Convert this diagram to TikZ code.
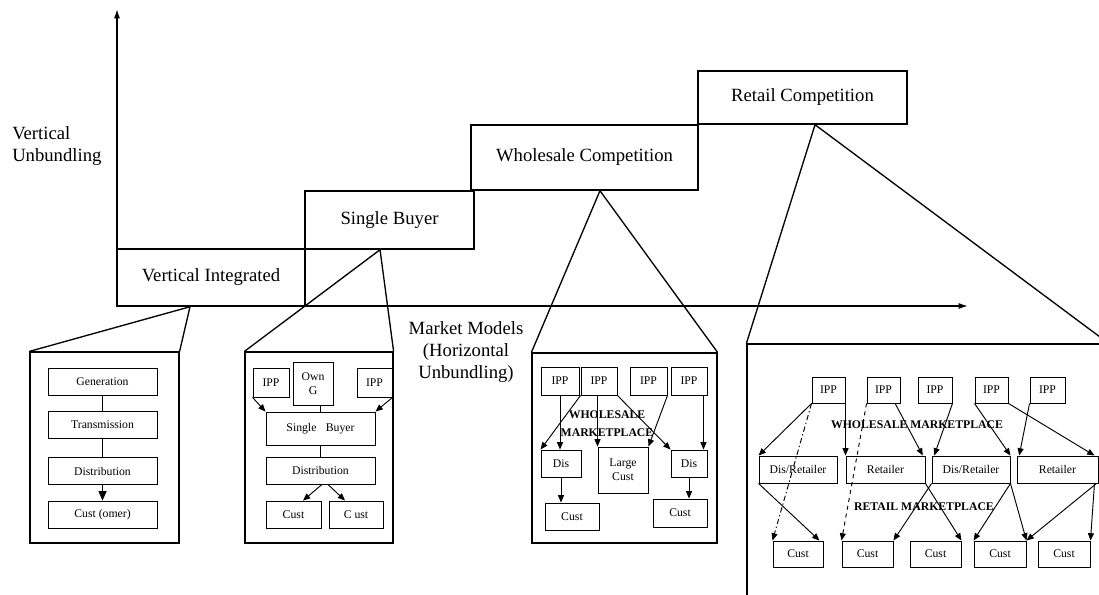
\documentclass[tikz,border=0pt]{standalone}
\usepackage{fontspec}
\setmainfont{Liberation Serif}
\usetikzlibrary{arrows.meta}
\begin{document}
\begin{tikzpicture}[
  x=0.75pt, y=-0.75pt,
  >={Triangle[length=5.5pt,width=4.5pt]},
  px/.style 2 args={minimum width=#1*0.75pt, minimum height=#2*0.75pt},
  stage/.style={draw, line width=1.1pt, inner sep=0pt, font=\fontsize{14}{16.5}\selectfont},
  panel/.style={draw, line width=0.9pt, inner sep=0pt},
  unit/.style={draw, line width=0.7pt, inner sep=0pt, align=center, font=\fontsize{8.8}{10.5}\selectfont},
  market/.style={align=center, inner sep=0pt, font=\fontsize{8.8}{13.5}\selectfont\bfseries},
  axislabel/.style={align=center, inner sep=0pt, font=\fontsize{14}{16.5}\selectfont},
  axis/.style={line width=1.1pt, -{Latex[length=7pt,width=4.5pt]}},
  flow/.style={->, line width=0.7pt},
  link/.style={line width=0.7pt},
  zoomline/.style={line width=1pt}
]
\useasboundingbox (0,0) rectangle (1099,594);
\clip (0,0) rectangle (1099,594);

% axes
\coordinate (origin) at (117,306);
\coordinate (ytop) at (117,9);
\coordinate (xend) at (968,306);
\draw[axis] (origin) -- (ytop);
\draw[axis] (origin) -- (xend);
\node[axislabel, align=left, anchor=west] (vu) at (12,146) {Vertical\\Unbundling};
\node[axislabel] (mm) at (466,352) {Market Models\\(Horizontal\\Unbundling)};

% stages
\node[stage, px={188}{57}] (vi) at (211,277.5) {Vertical Integrated};
\node[stage, px={169}{58}] (sb) at (389.5,220) {Single Buyer};
\node[stage, px={227}{65}] (wc) at (584.5,157.5) {Wholesale Competition};
\node[stage, px={209}{53}] (rc) at (802.5,97.5) {Retail Competition};

% panels
\node[panel, px={149}{191}] (p1) at (104.5,447.5) {};
\node[panel, px={148}{191}] (p2) at (319,447.5) {};
\node[panel, px={185}{190}] (p3) at (624.5,448) {};
\node[panel, px={361}{280}] (p4) at (927.5,484) {};
\draw[zoomline] (p1.north west) -- ([xshift=-15.75pt]vi.south) -- (p1.north east);
\draw[zoomline] (p2.north west) -- ([xshift=-7.1pt]sb.south) -- (p2.north east);
\draw[zoomline] (p3.north west) -- ([xshift=11.6pt]wc.south) -- (p3.north east);
\draw[zoomline] (p4.north west) -- ([xshift=9.4pt]rc.south) -- (p4.north east);

% vertical integrated
\node[unit, px={109}{27}] (gen) at (102.5,381.5) {Generation};
\node[unit, px={109}{27}] (trans) at (102.5,425) {Transmission};
\node[unit, px={109}{27}] (dist) at (102.5,471) {Distribution};
\node[unit, px={109}{27}] (cust) at (102.5,514.5) {Cust (omer)};
\draw[link] (gen) -- (trans) -- (dist);
\draw[flow, >={Triangle[length=7pt,width=6pt]}] (dist) -- (cust);

% single buyer
\node[unit, px={36}{29}] (ippA) at (271,382.5) {IPP};
\node[unit, px={40}{43}] (owng) at (313,383.5) {Own\\G};
\node[unit, px={35}{29}] (ippB) at (374.5,382.5) {IPP};
\node[unit, px={109}{33}] (buyer) at (320.5,428.5) {Single\hspace{0.8em}Buyer};
\node[unit, px={109}{27}] (dist2) at (320.5,470.5) {Distribution};
\node[unit, px={55}{27}] (custA) at (293.5,514.5) {Cust};
\node[unit, px={54}{27}] (custB) at (356,514.5) {C ust};
\draw[flow] (ippA.south west) -- (buyer.north west);
\draw[flow] (ippB.south east) -- (buyer.north east);
\draw[link] (buyer.north |- owng.south) -- (buyer.north);
\draw[link] (buyer) -- (dist2);
\draw[flow] ([xshift=1.1pt]dist2.south) -- ([xshift=7.1pt]custA.north);
\draw[flow] ([xshift=5.6pt]dist2.south) -- ([xshift=-8.2pt]custB.north);

% wholesale competition
\node[unit, px={38}{28}] (w1) at (560,381) {IPP};
\node[unit, px={36}{28}] (w2) at (599,381) {IPP};
\node[unit, px={37}{28}] (w3) at (648.5,381) {IPP};
\node[unit, px={36}{28}] (w4) at (689,381) {IPP};
\node[unit, px={40}{27}] (disA) at (561,463.5) {Dis};
\node[unit, px={50}{46}] (large) at (623,470) {Large\\Cust};
\node[unit, px={36}{27}] (disB) at (689,463.5) {Dis};
\node[unit, px={54}{27}] (custC) at (572,516.5) {Cust};
\node[unit, px={54}{28}] (custD) at (680,513) {Cust};
\draw[flow] (w1.south) -- (w1.south |- disA.north);
\draw[flow] (w2.south west) -- (disA.north west);
\draw[flow] (large.north west |- w2.south) -- (large.north west);
\draw[flow] (w2.south east) -- (disB.north west);
\draw[flow] (w3.south east) -- (large.north east);
\draw[flow] ([xshift=-3pt]w4.south east) -- ([xshift=-3pt]disB.north east);
\draw[flow] (disA.south) -- (disA.south |- custC.north);
\draw[flow] (disB.south) -- (disB.south |- custD.north);
\node[market] (wm) at (607,424) {WHOLESALE\\MARKETPLACE};

% retail competition
\node[unit, px={33}{26}] (r1) at (828.5,390) {IPP};
\node[unit, px={33}{26}] (r2) at (883.5,390) {IPP};
\node[unit, px={34}{26}] (r3) at (935,390) {IPP};
\node[unit, px={33}{26}] (r4) at (991.5,390) {IPP};
\node[unit, px={35}{26}] (r5) at (1047.5,390) {IPP};
\node[unit, px={78}{27}] (dr1) at (798,469.5) {Dis/Retailer};
\node[unit, px={79}{27}] (rt1) at (885.5,469.5) {Retailer};
\node[unit, px={78}{27}] (dr2) at (971,469.5) {Dis/Retailer};
\node[unit, px={81}{27}] (rt2) at (1057.5,469.5) {Retailer};
\node[unit, px={50}{26}] (c1) at (798,554) {Cust};
\node[unit, px={51}{26}] (c2) at (867.5,554) {Cust};
\node[unit, px={51}{26}] (c3) at (935.5,554) {Cust};
\node[unit, px={52}{26}] (c4) at (1000,554) {Cust};
\node[unit, px={52}{26}] (c5) at (1064,554) {Cust};
\draw[flow] (r1.south west) -- (dr1.north west);
\draw[flow] (rt1.north west |- r1.south) -- (rt1.north west);
\draw[flow, dash pattern=on 4pt off 2pt on 1pt off 2pt] (r1.south west) -- (c1.north west);
\draw[flow, dashed] (r2.south west) -- (c2.north west);
\draw[flow] ([xshift=-4pt]r2.south east) -- ([xshift=-2pt]rt1.north east);
\draw[flow] (r3.south east) -- ([xshift=2pt]dr2.north west);
\draw[flow] (r4.south west) -- (dr2.north east);
\draw[flow] (r4.south east) -- ([xshift=-3pt]rt2.north east);
\draw[flow] (r5.south west) -- ([xshift=2pt]rt2.north west);
\draw[flow] (dr1.south west) -- ([xshift=-3pt]c1.north east);
\draw[flow] (rt1.south east) -- (c3.north east);
\draw[flow] (dr2.south west) -- (c2.north east);
\draw[flow] (dr2.south east) -- (c4.north west);
\draw[flow] (dr2.south east) -- (c4.north east);
\draw[flow] ([xshift=-1.5pt]rt2.south east) -- (c4.north east);
\draw[flow] ([xshift=-3pt]rt2.south east) -- (c5.north east);
\node[market] (wm2) at (917,425) {WHOLESALE MARKETPLACE};
\node[market] (rm) at (924,507) {RETAIL MARKETPLACE};
\end{tikzpicture}
\end{document}
